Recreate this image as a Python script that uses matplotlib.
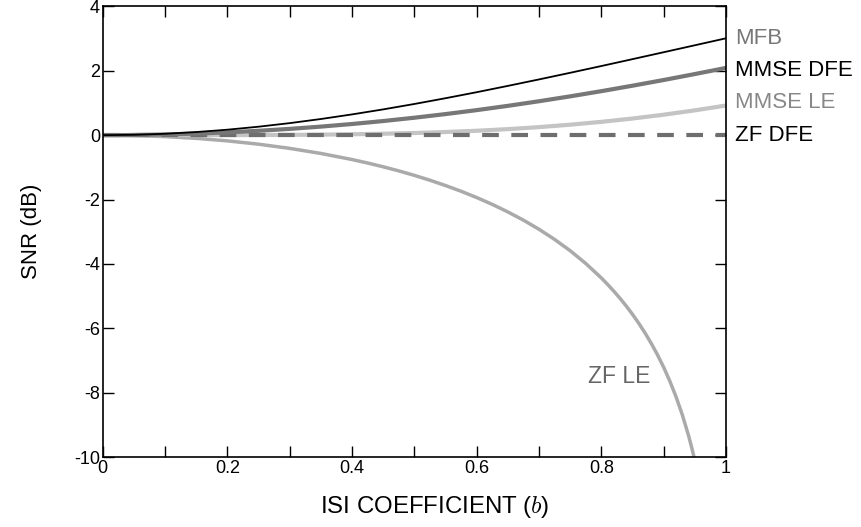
import matplotlib
matplotlib.use("Agg")
import matplotlib.pyplot as plt
from matplotlib.ticker import FixedLocator, FuncFormatter

plt.rcParams['font.family'] = ['Liberation Sans', 'DejaVu Sans']
plt.rcParams['mathtext.fontset'] = 'cm'
plt.rcParams['axes.unicode_minus'] = False

# ISI coefficient b
b = [0.0, 0.05, 0.1, 0.15, 0.2, 0.25, 0.3, 0.35, 0.4, 0.45, 0.5, 0.55,
     0.6, 0.65, 0.7, 0.75, 0.8, 0.85, 0.9, 0.95, 1.0]
mfb = [0.0, 0.011, 0.043, 0.097, 0.170, 0.263, 0.374, 0.502, 0.645, 0.801, 0.969,
       1.148, 1.335, 1.531, 1.732, 1.938, 2.148, 2.362, 2.577, 2.793, 3.010]
mmse_dfe = [0.0, 0.005, 0.022, 0.049, 0.087, 0.136, 0.195, 0.266, 0.347, 0.439, 0.542,
            0.655, 0.778, 0.911, 1.054, 1.206, 1.367, 1.537, 1.714, 1.899, 2.090]
mmse_le = [0.0, 0.0, 0.0001, 0.0006, 0.0017, 0.0042, 0.0088, 0.0162, 0.0277, 0.0442, 0.0671,
           0.0977, 0.137, 0.188, 0.250, 0.325, 0.414, 0.517, 0.636, 0.771, 0.921]
zf_dfe = [0.0] * len(b)

b_zfle = [0.0, 0.05, 0.1, 0.15, 0.2, 0.25, 0.3, 0.35, 0.4, 0.425, 0.45, 0.475, 0.5,
          0.525, 0.55, 0.575, 0.6, 0.625, 0.65, 0.675, 0.7, 0.725, 0.75, 0.775, 0.8,
          0.81, 0.82, 0.83, 0.84, 0.85, 0.86, 0.87, 0.88, 0.89, 0.9, 0.91, 0.92,
          0.93, 0.94, 0.945, 0.95]
zf_le = [0.0, -0.011, -0.044, -0.099, -0.177, -0.280, -0.410, -0.568, -0.757, -0.865,
         -0.983, -1.110, -1.249, -1.400, -1.565, -1.743, -1.938, -2.151, -2.385, -2.641,
         -2.924, -3.239, -3.590, -3.986, -4.437, -4.636, -4.847, -5.071, -5.311, -5.567,
         -5.844, -6.142, -6.467, -6.821, -7.212, -7.647, -8.136, -8.693, -9.340, -9.707,
         -10.110]

fig = plt.figure(figsize=(8.61, 5.27), dpi=100)
ax = fig.add_axes([0.1193, 0.1328, 0.7239, 0.855])

ax.plot(b_zfle, zf_le, color='#aaaaaa', lw=2.5, solid_capstyle='butt')
ax.plot(b, mmse_le, color='#c4c4c4', lw=3)
ax.plot(b, zf_dfe, color='#6e6e6e', lw=3, dashes=(4, 3))
ax.plot(b, mmse_dfe, color='#777777', lw=3)
ax.plot(b, mfb, color='black', lw=1.3)

ax.set_xlim(0, 1)
ax.set_ylim(-10, 4)

ax.xaxis.set_major_locator(FixedLocator([i / 10 for i in range(11)]))
def xfmt(v, pos):
    if pos % 2 == 1:
        return ''
    return '0' if abs(v) < 1e-9 else ('1' if abs(v - 1) < 1e-9 else f'{v:.1f}')
ax.xaxis.set_major_formatter(FuncFormatter(xfmt))
ax.set_yticks([4, 2, 0, -2, -4, -6, -8, -10])
ax.tick_params(direction='in', length=8, width=1, top=True, right=True,
               labelsize=13, pad=2)
for s in ax.spines.values():
    s.set_linewidth(1.2)

ax.set_xlabel('ISI COEFFICIENT ($b$)', fontsize=17.3, va='center')
ax.xaxis.set_label_coords(0.532, -0.111)
ax.set_ylabel('SNR (dB)', fontsize=16, labelpad=23)

lab_kw = dict(fontsize=16, va='center', ha='left', clip_on=False)
ax.text(1.015, 3.0, 'MFB', color='#777777', **lab_kw)
ax.text(1.015, 2.02, 'MMSE DFE', color='black', **lab_kw)
ax.text(1.015, 1.0, 'MMSE LE', color='#888888', **lab_kw)
ax.text(1.015, 0.0, 'ZF DFE', color='black', **lab_kw)
ax.text(0.778, -7.5, 'ZF LE', color='#666666', fontsize=16.5, va='center', ha='left')

fig.savefig('out.png', dpi=100)
